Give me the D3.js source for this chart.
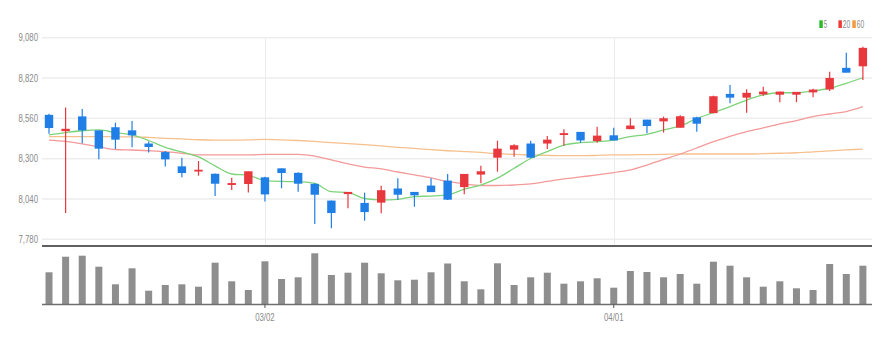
<!DOCTYPE html>
<html>
<head>
<meta charset="utf-8">
<script src="https://cdn.jsdelivr.net/npm/d3@7"></script>
<style>
  html, body { margin: 0; padding: 0; background: #fff; }
  svg { display: block; }
  text { font-family: "Liberation Sans", Arial, sans-serif; }
</style>
</head>
<body>
<svg id="chart" width="889" height="342"></svg>
<script>
const dates = ["02/10","02/11","02/14","02/15","02/16","02/17","02/18","02/21","02/22","02/23",
  "02/24","02/25","02/28","03/02","03/03","03/04","03/07","03/08","03/10","03/11",
  "03/14","03/15","03/16","03/17","03/18","03/21","03/22","03/23","03/24","03/25",
  "03/28","03/29","03/30","03/31","04/01","04/04","04/05","04/06","04/07","04/08",
  "04/11","04/12","04/13","04/14","04/15","04/18","04/19","04/20","04/21","04/22"];
const openV  = [8580,8480,8570,8480,8500,8480,8395,8340,8248,8220,8200,8133,8139,8177,8235,8206,8135,8027,8074,8012,8019,8105,8083,8124,8156,8119,8200,8309,8361,8395,8400,8455,8470,8416,8448,8493,8549,8543,8502,8564,8596,8715,8696,8717,8715,8715,8730,8749,8883,8898];
const highV  = [8590,8630,8620,8480,8532,8543,8410,8350,8306,8285,8205,8177,8218,8184,8238,8212,8141,8030,8085,8081,8126,8174,8085,8174,8201,8201,8255,8416,8393,8416,8446,8489,8472,8506,8500,8560,8551,8571,8580,8570,8706,8775,8747,8764,8732,8730,8751,8861,8983,9022];
const lowV   = [8460,7950,8400,8296,8362,8373,8340,8250,8180,8190,8060,8098,8081,8023,8109,8087,7879,7851,7980,7900,7948,8034,7990,8085,8034,8070,8141,8216,8313,8303,8362,8384,8403,8403,8418,8490,8464,8468,8500,8474,8593,8657,8596,8706,8664,8664,8696,8736,8855,8807];
const closeV = [8500,8490,8485,8367,8425,8453,8378,8298,8210,8226,8141,8140,8216,8072,8210,8141,8070,7952,8083,7958,8094,8070,8066,8087,8038,8199,8216,8362,8384,8309,8420,8462,8420,8446,8420,8511,8513,8558,8571,8528,8700,8696,8722,8730,8730,8728,8743,8818,8857,9012];
const volumeV = [317,473,483,373,197,357,133,190,197,173,413,227,140,427,250,267,507,290,313,413,307,237,243,317,405,227,147,407,190,267,313,203,227,257,163,330,320,267,300,203,423,383,267,173,227,157,140,400,300,383];
const ma5  = [8453,8468,8480,8485,8468,8453,8417,8373,8343,8311,8253,8201,8192,8159,8153,8152,8140,8087,8081,8043,8034,8038,8055,8059,8066,8103,8130,8174,8238,8301,8345,8388,8403,8410,8420,8442,8457,8485,8511,8559,8597,8635,8678,8711,8725,8725,8736,8754,8786,8822];
const ma20 = [8420,8411,8395,8377,8359,8356,8351,8345,8335,8324,8324,8324,8324,8327,8328,8328,8317,8292,8266,8246,8234,8214,8195,8176,8153,8137,8127,8127,8130,8137,8153,8169,8182,8195,8210,8227,8259,8295,8330,8369,8410,8443,8474,8498,8524,8546,8571,8588,8604,8635];
const ma60 = [8442,8442,8442,8442,8441,8441,8437,8431,8427,8422,8420,8420,8421,8425,8421,8417,8411,8403,8397,8390,8382,8373,8366,8358,8351,8346,8340,8332,8327,8324,8321,8319,8319,8321,8324,8325,8326,8328,8330,8330,8330,8330,8330,8332,8335,8338,8344,8350,8356,8362];
const priceTicks = [7780, 8040, 8300, 8560, 8820, 9080];
const dateTicks = ["03/02", "04/01"];
const legendLabels = ["5", "20", "60"];

const colors = { up: "#e8373d", down: "#1f7fe6", ma5: "#7dd37a", ma20: "#f39a9a", ma60: "#f6c08d",
  leg5: "#2dbb2d", leg20: "#ee3b3b", leg60: "#f39b3d", vol: "#8e8e8e", grid: "#ededed", label: "#8a8a8a" };

const svg = d3.select("#chart");
const left = 42, right = 872;
const x = d3.scaleBand().domain(dates).range([40.7, 871.2]).padding(0);
const cx = d => x(d) + x.bandwidth() / 2;
const y = d3.scaleLinear().domain([7780, 9080]).range([239.3, 37.7]);
const yv = d3.scaleLinear().domain([0, 520]).range([304, 252]);

// condense text horizontally (narrow look)
function narrow(sel, f) {
  sel.each(function () {
    const w = this.getComputedTextLength();
    d3.select(this).attr("textLength", w * f).attr("lengthAdjust", "spacingAndGlyphs");
  });
}

// grid lines (horizontal)
svg.append("g").selectAll("line").data(priceTicks).join("line")
  .attr("x1", left).attr("x2", right)
  .attr("y1", d => y(d)).attr("y2", d => y(d))
  .attr("stroke", colors.grid).attr("stroke-width", 1.5);

// vertical grid at date ticks
svg.append("g").selectAll("line").data(dateTicks).join("line")
  .attr("x1", d => Math.round(cx(d)) + 0.5).attr("x2", d => Math.round(cx(d)) + 0.5)
  .attr("y1", y(9080)).attr("y2", 245)
  .attr("stroke", "#ececec").attr("stroke-width", 1);

// y axis labels
const yAxis = d3.axisLeft(y).tickValues(priceTicks).tickFormat(d3.format(",")).tickSize(0).tickPadding(0);
const gy = svg.append("g").attr("transform", "translate(38,0)").call(yAxis);
gy.select(".domain").remove();
gy.selectAll("text").attr("fill", colors.label).style("font-size", "10px")
  .style("font-family", "'Liberation Sans', Arial, sans-serif").call(narrow, 0.78);

// MA lines
const line = d3.line().x((d, i) => cx(dates[i])).y(d => y(d)).curve(d3.curveMonotoneX);
[[ma60, colors.ma60], [ma20, colors.ma20], [ma5, colors.ma5]].forEach(([arr, c]) => {
  svg.append("path").datum(arr).attr("d", line).attr("fill", "none")
    .attr("stroke", c).attr("stroke-width", 1.3);
});

// candles
const candles = svg.append("g").selectAll("g").data(dates).join("g");
const isUp = i => closeV[i] >= openV[i];
candles.append("line")
  .attr("x1", d => cx(d)).attr("x2", d => cx(d))
  .attr("y1", (d, i) => y(highV[i])).attr("y2", (d, i) => y(lowV[i]))
  .attr("stroke", (d, i) => isUp(i) ? colors.up : colors.down).attr("stroke-width", 1.2);
candles.append("rect")
  .attr("x", d => cx(d) - 4.2).attr("width", 8.4)
  .attr("y", (d, i) => Math.min(y(openV[i]), y(closeV[i])) - 0.4)
  .attr("height", (d, i) => Math.max(1.8, Math.abs(y(openV[i]) - y(closeV[i])) + 0.8))
  .attr("fill", (d, i) => isUp(i) ? colors.up : colors.down);

// price area bottom line
svg.append("line").attr("x1", left).attr("x2", right).attr("y1", 246).attr("y2", 246)
  .attr("stroke", "#2b2b2b").attr("stroke-width", 1.6);

// volume bars
svg.append("g").selectAll("rect").data(dates).join("rect")
  .attr("x", d => cx(d) - 3.5).attr("width", 7)
  .attr("y", (d, i) => yv(volumeV[i])).attr("height", (d, i) => yv(0) - yv(volumeV[i]))
  .attr("fill", colors.vol);

// x axis
const xAxis = d3.axisBottom(x).tickValues(dateTicks).tickSize(4).tickPadding(6);
const gx = svg.append("g").attr("transform", "translate(0,304)").call(xAxis);
gx.select(".domain").attr("d", `M${left},0.5H${right}`).attr("stroke", "#6f6f6f").attr("stroke-width", 1.3);
gx.selectAll(".tick line").attr("stroke", "#555");
gx.selectAll("text").attr("fill", colors.label).style("font-size", "10px")
  .style("font-family", "'Liberation Sans', Arial, sans-serif").call(narrow, 0.78);

// legend
const legColors = [colors.leg5, colors.leg20, colors.leg60];
const legX = [819.3, 838.4, 852.3];
const legW = [3.4, 7.4, 7.4];
const leg = svg.append("g");
legendLabels.forEach((lab, i) => {
  leg.append("rect").attr("x", legX[i]).attr("y", 20.3).attr("width", 3.5).attr("height", 7.7).attr("fill", legColors[i]);
  leg.append("text").attr("x", legX[i] + 4.4).attr("y", 28.4).text(lab)
    .attr("fill", colors.label).style("font-size", "11.5px")
    .attr("textLength", legW[i]).attr("lengthAdjust", "spacingAndGlyphs");
});
</script>
</body>
</html>
